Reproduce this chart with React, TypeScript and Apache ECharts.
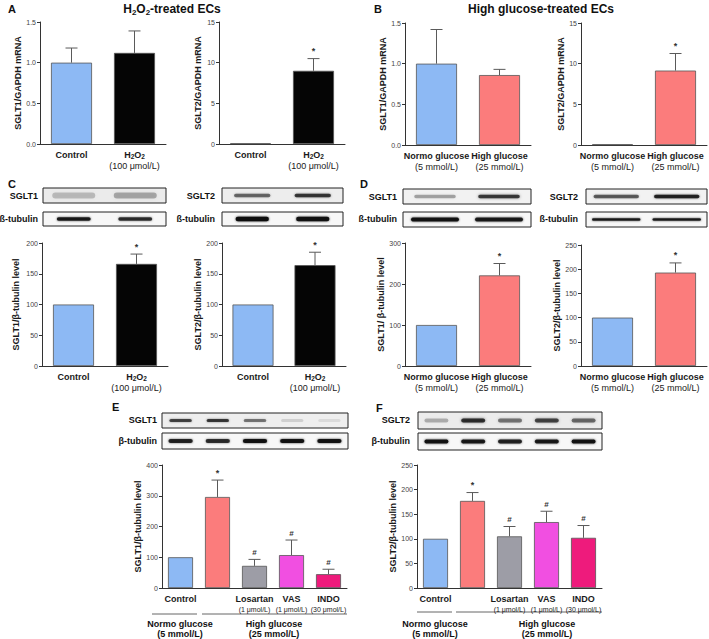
import React, { useEffect, useRef } from "react";
import * as echarts from "echarts";

const FONT = "'Liberation Sans', Arial, Helvetica, sans-serif";

const C_BLUE = "#8db9f4";
const C_BLACK = "#050505";
const C_RED = "#fb7c7c";
const C_GREY = "#9d9da6";
const C_MAGENTA = "#f14fe1";
const C_PINK = "#ee1b7c";

// ---------- Panel A : H2O2-treated ECs (mRNA) ----------
const aLabels = [["Control"], ["H2O2", "(100 μmol/L)"]];
const a1Ticks = [0, 0.5, 1.0, 1.5];
const a1Values = [1.0, 1.12];
const a1Errors = [0.18, 0.27];
const a1Marks = ["", ""];
const a2Ticks = [0, 5, 10, 15];
const a2Values = [0.08, 9.0];
const a2Errors = [0, 1.5];
const a2Marks = ["", "*"];

// ---------- Panel B : High glucose-treated ECs (mRNA) ----------
const bLabels = [["Normo glucose", "(5 mmol/L)"], ["High glucose", "(25 mmol/L)"]];
const b1Ticks = [0, 0.5, 1.0, 1.5];
const b1Values = [1.0, 0.86];
const b1Errors = [0.42, 0.07];
const b1Marks = ["", ""];
const b2Ticks = [0, 5, 10, 15];
const b2Values = [0.08, 9.15];
const b2Errors = [0, 2.1];
const b2Marks = ["", "*"];

// ---------- Panel C : H2O2, protein ----------
const cTicks = [0, 50, 100, 150, 200];
const c1Values = [100, 166];
const c1Errors = [0, 16];
const c2Values = [100, 164];
const c2Errors = [0, 21];
const cMarks = ["", "*"];

// ---------- Panel D : High glucose, protein ----------
const d1Ticks = [0, 100, 200, 300];
const d1Values = [100, 221];
const d1Errors = [0, 29];
const d2Ticks = [0, 50, 100, 150, 200, 250];
const d2Values = [100, 193];
const d2Errors = [0, 20];
const dMarks = ["", "*"];

// ---------- Panels E / F : inhibitors ----------
const efLabels = [["Control"], [""], ["Losartan", "(1 μmol/L)"], ["VAS", "(1 μmol/L)"], ["INDO", "(30 μmol/L)"]];
const eTicks = [0, 100, 200, 300, 400];
const eValues = [100, 296, 72, 107, 45];
const eErrors = [0, 55, 21, 49, 16];
const fTicks = [0, 50, 100, 150, 200, 250];
const fValues = [100, 177, 105, 134, 102];
const fErrors = [0, 17, 20, 22, 25];
const efMarks = ["", "*", "#", "#", "#"];

// blot band intensities (visual only)
const cSglt1Bands = [0.2, 0.28];
const cTub1Bands = [0.9, 0.8];
const cSglt2Bands = [0.55, 0.75];
const cTub2Bands = [1, 0.95];
const dSglt1Bands = [0.3, 0.75];
const dTub1Bands = [0.95, 0.9];
const dSglt2Bands = [0.6, 0.85];
const dTub2Bands = [0.9, 0.9];
const eSgltBands = [0.7, 0.75, 0.5, 0.12, 0.08];
const eTubBands = [0.85, 0.8, 0.95, 0.95, 0.95];
const fSgltBands = [0.25, 0.8, 0.5, 0.7, 0.55];
const fTubBands = [0.95, 0.9, 0.85, 0.9, 0.95];

type Panel = {
  left: number; top: number; width: number; height: number;
  ticks: number[]; decimals: number; yName: string; nameGap: number;
  labels: string[][]; small: boolean;
  values: number[]; errors: number[]; marks: string[]; colors: string[]; barWidth: number;
};

const panels: Panel[] = [
  { left: 40, top: 22, width: 126, height: 122, ticks: a1Ticks, decimals: 1, yName: "SGLT1/GAPDH mRNA", nameGap: 17, labels: aLabels, small: false, values: a1Values, errors: a1Errors, marks: a1Marks, colors: [C_BLUE, C_BLACK], barWidth: 41 },
  { left: 219, top: 22, width: 126, height: 122, ticks: a2Ticks, decimals: 0, yName: "SGLT2/GAPDH mRNA", nameGap: 17, labels: aLabels, small: false, values: a2Values, errors: a2Errors, marks: a2Marks, colors: [C_BLUE, C_BLACK], barWidth: 41 },
  { left: 405, top: 23, width: 126, height: 122, ticks: b1Ticks, decimals: 1, yName: "SGLT1/GAPDH mRNA", nameGap: 17, labels: bLabels, small: false, values: b1Values, errors: b1Errors, marks: b1Marks, colors: [C_BLUE, C_RED], barWidth: 41 },
  { left: 581, top: 23, width: 126, height: 122, ticks: b2Ticks, decimals: 0, yName: "SGLT2/GAPDH mRNA", nameGap: 15, labels: bLabels, small: false, values: b2Values, errors: b2Errors, marks: b2Marks, colors: [C_BLUE, C_RED], barWidth: 41 },
  { left: 42, top: 243, width: 126, height: 123, ticks: cTicks, decimals: 0, yName: "SGLT1/β-tubulin level", nameGap: 22, labels: aLabels, small: false, values: c1Values, errors: c1Errors, marks: cMarks, colors: [C_BLUE, C_BLACK], barWidth: 41 },
  { left: 222, top: 243, width: 124, height: 123, ticks: cTicks, decimals: 0, yName: "SGLT2/β-tubulin level", nameGap: 20, labels: aLabels, small: false, values: c2Values, errors: c2Errors, marks: cMarks, colors: [C_BLUE, C_BLACK], barWidth: 41 },
  { left: 405, top: 243, width: 126, height: 123, ticks: d1Ticks, decimals: 0, yName: "SGLT1/ β-tubulin level", nameGap: 20, labels: bLabels, small: false, values: d1Values, errors: d1Errors, marks: dMarks, colors: [C_BLUE, C_RED], barWidth: 41 },
  { left: 581, top: 245, width: 126, height: 121, ticks: d2Ticks, decimals: 0, yName: "SGLT2/β-tubulin level", nameGap: 20, labels: bLabels, small: false, values: d2Values, errors: d2Errors, marks: dMarks, colors: [C_BLUE, C_RED], barWidth: 41 },
  { left: 162, top: 465, width: 185, height: 123, ticks: eTicks, decimals: 0, yName: "SGLT1/β-tubulin level", nameGap: 20, labels: efLabels, small: true, values: eValues, errors: eErrors, marks: efMarks, colors: [C_BLUE, C_RED, C_GREY, C_MAGENTA, C_PINK], barWidth: 25 },
  { left: 417, top: 465, width: 185, height: 123, ticks: fTicks, decimals: 0, yName: "SGLT2/β-tubulin level", nameGap: 20, labels: efLabels, small: true, values: fValues, errors: fErrors, marks: efMarks, colors: [C_BLUE, C_RED, C_GREY, C_MAGENTA, C_PINK], barWidth: 25 },
];

function mainRich(s: string): string {
  if (!s) return "";
  if (s === "H2O2") return "{b|H}{s|2}{b|O}{s|2}";
  return "{b|" + s + "}";
}

function catLabel(lines: string[], small: boolean): string {
  const first = mainRich(lines[0]);
  if (lines.length < 2) return first;
  return first + "\n" + (small ? "{c|" + lines[1] + "}" : "{n|" + lines[1] + "}");
}

const richStyles = {
  b: { fontFamily: FONT, fontSize: 9, fontWeight: "bold", color: "#1a1a1a", lineHeight: 11 },
  s: { fontFamily: FONT, fontSize: 6.5, fontWeight: "bold", color: "#1a1a1a", verticalAlign: "bottom", lineHeight: 11, padding: [3, 0, 0, 0] },
  n: { fontFamily: FONT, fontSize: 9, color: "#1a1a1a", lineHeight: 11 },
  c: { fontFamily: FONT, fontSize: 7, color: "#1a1a1a", lineHeight: 11 },
};

function txt(x: number, y: number, text: string, size: number, align: string, weight = "bold", extra: any = {}) {
  return {
    type: "text",
    x, y,
    style: { text, fontFamily: FONT, fontSize: size, fontWeight: weight, fill: "#111", align, verticalAlign: "middle", ...extra },
    silent: true,
  };
}

function blot(x: number, y: number, w: number, h: number, bands: number[], bg: string, bandH: number, bandFrac: number, blur = 2) {
  const els: any[] = [];
  els.push({ type: "rect", shape: { x, y, width: w, height: h }, style: { fill: bg, stroke: "#222", lineWidth: 1 }, silent: true });
  const n = bands.length;
  const lane = w / n;
  bands.forEach((a, i) => {
    const cx = x + lane * (i + 0.5);
    const bw = lane * bandFrac;
    els.push({
      type: "rect",
      shape: { x: cx - bw / 2, y: y + h / 2 - bandH / 2, width: bw, height: bandH, r: bandH / 2 },
      style: { fill: `rgba(15,15,15,${a})`, shadowBlur: blur, shadowColor: `rgba(15,15,15,${a * 0.8})` },
      silent: true,
    });
  });
  return els;
}

export default function App() {
  const ref = useRef<HTMLDivElement>(null);
  useEffect(() => {
    document.body.style.margin = "0";
    if (!ref.current) return;
    const chart = echarts.init(ref.current, undefined, { renderer: "svg" });

    const grid: any[] = [];
    const xAxis: any[] = [];
    const yAxis: any[] = [];
    const series: any[] = [];

    panels.forEach((p, i) => {
      grid.push({ left: p.left, top: p.top, width: p.width, height: p.height, containLabel: false, outerBoundsMode: "none" });
      const ticks = p.ticks;
      xAxis.push({
        type: "category",
        gridIndex: i,
        data: p.labels.map((l) => l.join(" ")),
        axisLine: { lineStyle: { color: "#333", width: 1 } },
        axisTick: { show: false },
        axisLabel: {
          interval: 0,
          margin: 5,
          formatter: (_v: string, idx: number) => catLabel(p.labels[idx], p.small),
          rich: richStyles,
        },
      });
      yAxis.push({
        type: "value",
        gridIndex: i,
        min: ticks[0],
        max: ticks[ticks.length - 1],
        interval: ticks[1] - ticks[0],
        splitLine: { show: false },
        axisLine: { show: true, lineStyle: { color: "#333", width: 1 } },
        axisTick: { show: true, length: 3, lineStyle: { color: "#333" } },
        axisLabel: {
          fontFamily: FONT,
          fontSize: 7,
          color: "#444",
          margin: 4,
          formatter: (v: number) => v.toFixed(p.decimals),
        },
        name: p.yName,
        nameLocation: "middle",
        nameRotate: 90,
        nameGap: p.nameGap,
        nameTextStyle: { fontFamily: FONT, fontSize: 9, fontWeight: "bold", color: "#1a1a1a" },
      });
      series.push({
        type: "bar",
        xAxisIndex: i,
        yAxisIndex: i,
        barWidth: p.barWidth,
        data: p.values.map((v, k) => ({ value: v, itemStyle: { color: p.colors[k] } })),
        itemStyle: { borderColor: "#555", borderWidth: 0.8 },
        z: 2,
      });
      series.push({
        type: "custom",
        xAxisIndex: i,
        yAxisIndex: i,
        z: 3,
        encode: { x: 0, y: 1 },
        data: p.values.map((v, k) => [k, v, p.errors[k]]),
        renderItem: (params: any, api: any) => {
          const k = api.value(0);
          const v = api.value(1);
          const e = api.value(2);
          const p0 = api.coord([k, v]);
          const p1 = api.coord([k, v + e]);
          const children: any[] = [];
          const ls = { stroke: "#5a5a5a", lineWidth: 1 };
          if (e > 0) {
            children.push({ type: "line", shape: { x1: p0[0], y1: p0[1], x2: p1[0], y2: p1[1] }, style: ls });
            children.push({ type: "line", shape: { x1: p1[0] - 6, y1: p1[1], x2: p1[0] + 6, y2: p1[1] }, style: ls });
          }
          const m = p.marks[params.dataIndex];
          if (m) {
            children.push({
              type: "text",
              style: {
                text: m,
                x: p1[0],
                y: p1[1] - 3,
                align: "center",
                verticalAlign: "bottom",
                fontFamily: FONT,
                fontSize: m === "*" ? 9 : 8,
                fontWeight: "bold",
                fill: "#333",
              },
            });
          }
          return { type: "group", children };
        },
      });
    });

    const graphic: any[] = [];
    // panel letters
    graphic.push(txt(8, 9, "A", 11, "left"));
    graphic.push(txt(374, 9, "B", 11, "left"));
    graphic.push(txt(8, 184, "C", 11, "left"));
    graphic.push(txt(360, 184, "D", 11, "left"));
    graphic.push(txt(112, 407, "E", 11, "left"));
    graphic.push(txt(376, 408, "F", 11, "left"));
    // titles
    graphic.push({
      type: "text",
      x: 172,
      y: 9,
      silent: true,
      style: {
        text: "{t|H}{u|2}{t|O}{u|2}{t|-treated ECs}",
        align: "center",
        verticalAlign: "middle",
        rich: {
          t: { fontFamily: FONT, fontSize: 12, fontWeight: "bold", fill: "#111", lineHeight: 14 },
          u: { fontFamily: FONT, fontSize: 8, fontWeight: "bold", fill: "#111", verticalAlign: "bottom", lineHeight: 14, padding: [4, 0, 0, 0] },
        },
      },
    });
    graphic.push(txt(541, 9, "High glucose-treated ECs", 12, "center"));

    // blots C
    graphic.push(...blot(43, 188, 123, 15, cSglt1Bands, "#ebebeb", 6, 0.7, 4));
    graphic.push(...blot(43, 212, 123, 14, cTub1Bands, "#f7f7f7", 3.5, 0.55));
    graphic.push(txt(38, 196, "SGLT1", 9, "right"));
    graphic.push(txt(38, 219, "ß-tubulin", 9, "right"));
    graphic.push(...blot(222, 188, 121, 15, cSglt2Bands, "#ededed", 3.5, 0.6));
    graphic.push(...blot(222, 212, 121, 14, cTub2Bands, "#f7f7f7", 4.5, 0.55));
    graphic.push(txt(215, 196, "SGLT2", 9, "right"));
    graphic.push(txt(215, 219, "ß-tubulin", 9, "right"));
    // blots D
    graphic.push(...blot(403, 189, 128, 15, dSglt1Bands, "#f2f2f2", 3.5, 0.65, 3));
    graphic.push(...blot(403, 212, 128, 15, dTub1Bands, "#f7f7f7", 4, 0.75));
    graphic.push(txt(397, 197, "SGLT1", 9, "right"));
    graphic.push(txt(397, 219, "ß-tubulin", 9, "right"));
    graphic.push(...blot(586, 189, 121, 15, dSglt2Bands, "#f2f2f2", 3.5, 0.75));
    graphic.push(...blot(586, 212, 121, 15, dTub2Bands, "#f7f7f7", 2.5, 0.8));
    graphic.push(txt(578, 197, "SGLT2", 9, "right"));
    graphic.push(txt(578, 219, "ß-tubulin", 9, "right"));
    // blots E
    graphic.push(...blot(162, 413, 186, 15, eSgltBands, "#eeeeee", 3, 0.6));
    graphic.push(...blot(162, 433, 186, 16, eTubBands, "#f7f7f7", 4, 0.65));
    graphic.push(txt(157, 420, "SGLT1", 9, "right"));
    graphic.push(txt(157, 441, "β-tubulin", 9, "right"));
    // blots F
    graphic.push(...blot(418, 412, 184, 17, fSgltBands, "#ececec", 4, 0.65, 3));
    graphic.push(...blot(418, 433, 184, 17, fTubBands, "#f7f7f7", 4, 0.65));
    graphic.push(txt(410, 420, "SGLT2", 9, "right"));
    graphic.push(txt(410, 441, "β-tubulin", 9, "right"));

    // group lines and labels E/F
    const groupLine = (x1: number, x2: number, y: number) => ({
      type: "line",
      shape: { x1, y1: y, x2, y2: y },
      style: { stroke: "#666", lineWidth: 1 },
      silent: true,
    });
    graphic.push(groupLine(152, 197, 614));
    graphic.push(groupLine(202, 347, 614));
    graphic.push(txt(180, 624, "Normo glucose", 9, "center"));
    graphic.push(txt(180, 634, "(5 mmol/L)", 9, "center"));
    graphic.push(txt(274, 624, "High glucose", 9, "center"));
    graphic.push(txt(274, 634, "(25 mmol/L)", 9, "center"));
    graphic.push(groupLine(417, 452, 612));
    graphic.push(groupLine(456, 602, 612));
    graphic.push(txt(435, 624, "Normo glucose", 9, "center"));
    graphic.push(txt(435, 634, "(5 mmol/L)", 9, "center"));
    graphic.push(txt(547, 624, "High glucose", 9, "center"));
    graphic.push(txt(547, 634, "(25 mmol/L)", 9, "center"));

    chart.setOption({
      animation: false,
      backgroundColor: "#ffffff",
      textStyle: { fontFamily: FONT },
      grid,
      xAxis,
      yAxis,
      series,
      graphic,
    });
    return () => chart.dispose();
  }, []);
  return <div ref={ref} style={{ width: 709, height: 639 }} />;
}
